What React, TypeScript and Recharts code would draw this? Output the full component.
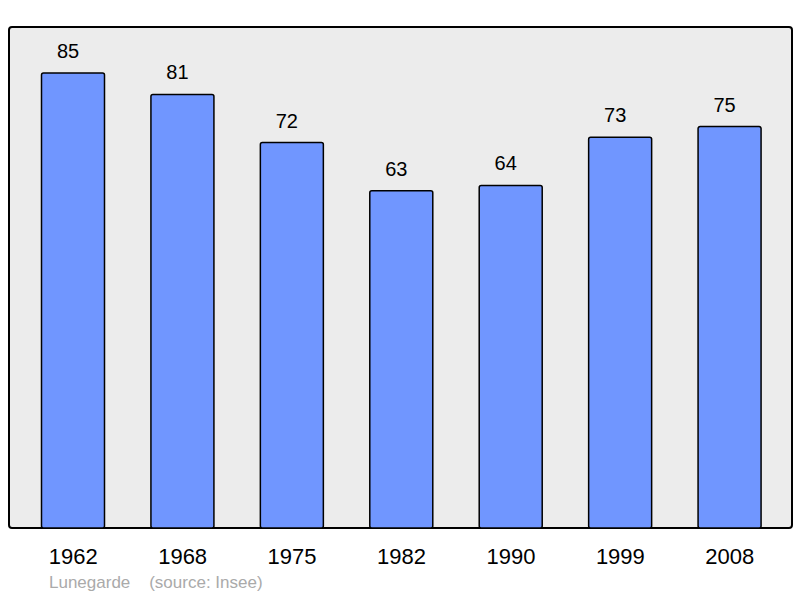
import { BarChart, Bar, XAxis, YAxis, LabelList } from 'recharts';

const years = ['1962', '1968', '1975', '1982', '1990', '1999', '2008'];
const population = [85, 81, 72, 63, 64, 73, 75];

const chartData = years.map((year, i) => ({ year, population: population[i] }));

const FONT = '"Liberation Sans", Arial, sans-serif';

function YearTick(props: any) {
    const { x, y, payload } = props;
    return (
        <text x={x} y={y + 36} textAnchor="middle" fontFamily={FONT} fontSize={22} fill="#000">
            {payload.value}
        </text>
    );
}

function ValueLabel(props: any) {
    const { x, y, width, value } = props;
    return (
        <text x={x + width / 2 - 5} y={y - 15} textAnchor="middle" fontFamily={FONT} fontSize={20} fill="#000">
            {value}
        </text>
    );
}

export default function App() {
    return (
        <div style={{ position: 'absolute', left: 0, top: 0, width: 800, height: 598, background: '#fff' }}>
            {/* grey panel behind the plot area */}
            <div
                style={{
                    position: 'absolute',
                    left: 8,
                    top: 26,
                    width: 781,
                    height: 499,
                    background: '#ececec',
                    border: '2px solid #000',
                    borderRadius: 4,
                }}
            />
            <div style={{ position: 'absolute', left: 0, top: 0 }}>
                <BarChart
                    width={800}
                    height={598}
                    data={chartData}
                    margin={{ top: 27, right: 8, left: 9, bottom: 10 }}
                >
                    <XAxis
                        dataKey="year"
                        height={60}
                        axisLine={false}
                        tickLine={false}
                        tickSize={0}
                        tickMargin={0}
                        padding={{ left: 9.5, right: 7.5 }}
                        tick={<YearTick />}
                        interval={0}
                    />
                    <YAxis hide domain={[0, 93.6]} />
                    <Bar
                        dataKey="population"
                        fill="#7096ff"
                        stroke="#000"
                        strokeWidth={1.5}
                        barSize={63}
                        radius={2}
                        isAnimationActive={false}
                    >
                        <LabelList dataKey="population" content={<ValueLabel />} />
                    </Bar>
                </BarChart>
            </div>
            <div
                style={{
                    position: 'absolute',
                    left: 49,
                    top: 573,
                    fontFamily: FONT,
                    fontSize: 17,
                    color: '#aaaaaa',
                    whiteSpace: 'pre',
                }}
            >
                {'Lunegarde    (source: Insee)'}
            </div>
        </div>
    );
}
